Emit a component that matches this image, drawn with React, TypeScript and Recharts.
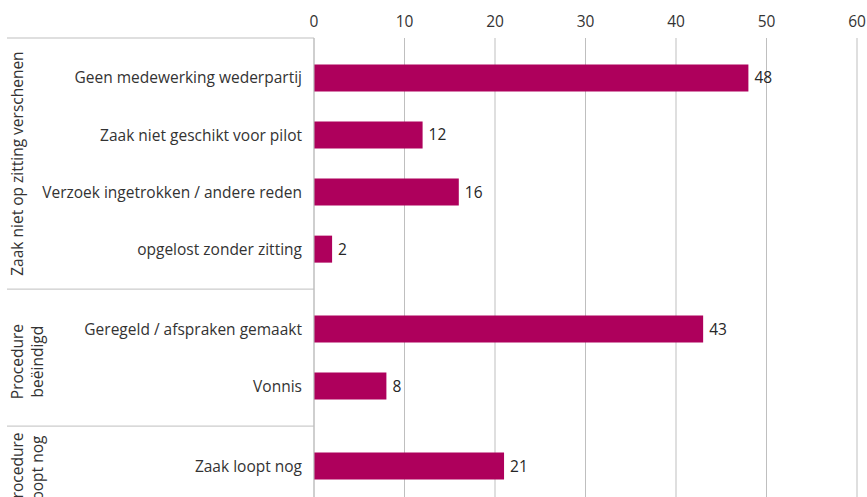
import { BarChart, Bar, XAxis, YAxis, CartesianGrid, LabelList } from 'recharts'

const categories = [
  'Geen medewerking wederpartij',
  'Zaak niet geschikt voor pilot',
  'Verzoek ingetrokken / andere reden',
  'opgelost zonder zitting',
  'Geregeld / afspraken gemaakt',
  'Vonnis',
  'Zaak loopt nog'
]
const groupOf = [0, 0, 0, 0, 1, 1, 2]
const values = [48, 12, 16, 2, 43, 8, 21]
const groupLabels = [
  ['Zaak niet op zitting verschenen'],
  ['Procedure', 'beëindigd'],
  ['Procedure', 'loopt nog']
]
const xTicks = [0, 10, 20, 30, 40, 50, 60]

// spacing in category units: padding before/after each group
const PAD = 0.7
const FONT = '"Open Sans", sans-serif'
const FS = 15.5
const TEXT = '#333333'
const GRID = '#bfbfbf'

// build positions per group
const groupStart: number[] = []
const groupEnd: number[] = []
let cursor = 0
groupLabels.forEach((_, g) => {
  const n = groupOf.filter(x => x === g).length
  groupStart.push(cursor)
  cursor += n - 1 + PAD * 2
  groupEnd.push(cursor)
})
const TOTAL = cursor

const data = categories.map((name, i) => {
  const g = groupOf[i]
  const j = groupOf.slice(0, i).filter(x => x === g).length
  return { name, value: values[i], pos: groupStart[g] + PAD + j }
})
const catTicks = data.map(d => d.pos)
const nameAt = (v: number) => data.find(d => Math.abs(d.pos - v) < 1e-6)?.name ?? ''

const groupCenters = groupLabels.map((_, g) => (groupStart[g] + groupEnd[g]) / 2)
const boundaries = [0, ...groupEnd]
const grpTicks = [...boundaries, ...groupCenters]

const W = 867
const H = 506
const GRP_W = 60
const CAT_W = 254
const LINE_X0 = 7

function GroupTick(props: any) {
  const { y, payload } = props
  const v = payload.value as number
  const gi = groupCenters.findIndex(c => Math.abs(c - v) < 1e-6)
  if (gi < 0) {
    return <line x1={LINE_X0} x2={GRP_W + CAT_W} y1={y} y2={y} stroke={GRID} strokeWidth={1} />
  }
  const lines = groupLabels[gi]
  const cx = 18
  const cy = lines.length === 1 ? y : y + 4
  return (
    <text
      transform={`rotate(-90, ${cx}, ${cy})`}
      x={cx}
      y={cy}
      textAnchor="middle"
      fontFamily={FONT}
      fontSize={FS}
      fill={TEXT}
    >
      {lines.map((l, k) => (
        <tspan key={k} x={cx} dy={k === 0 ? 5 : 20}>{l}</tspan>
      ))}
    </text>
  )
}

export default function App() {
  return (
    <div style={{ position: 'absolute', left: 0, top: 0, width: W, height: 497, overflow: 'hidden', background: '#fff' }}>
      <BarChart
        width={W}
        height={H}
        data={data}
        layout="vertical"
        margin={{ top: 0, right: 10, left: 0, bottom: 0 }}
      >
        <CartesianGrid horizontal={false} stroke={GRID} />
        <XAxis
          type="number"
          orientation="top"
          domain={[0, 60]}
          ticks={xTicks}
          height={38}
          axisLine={false}
          tickLine={false}
          tickMargin={5}
          tick={{ fill: TEXT, fontSize: FS, fontFamily: FONT }}
        />
        <YAxis
          yAxisId="cat"
          type="number"
          dataKey="pos"
          domain={[0, TOTAL]}
          ticks={catTicks}
          interval={0}
          width={CAT_W}
          axisLine={{ stroke: GRID }}
          tickLine={false}
          tickMargin={6}
          tickFormatter={nameAt}
          tick={{ fill: TEXT, fontSize: FS, fontFamily: FONT }}
        />
        <YAxis
          yAxisId="grp"
          type="number"
          dataKey="pos"
          domain={[0, TOTAL]}
          ticks={grpTicks}
          interval={0}
          width={GRP_W}
          axisLine={false}
          tickLine={false}
          tick={<GroupTick />}
        />
        <Bar yAxisId="cat" dataKey="value" fill="#ae005c" barSize={27} isAnimationActive={false}>
          <LabelList
            dataKey="value"
            position="right"
            offset={6}
            fill="#262626"
            fontSize={FS}
            fontFamily={FONT}
          />
        </Bar>
      </BarChart>
    </div>
  )
}
